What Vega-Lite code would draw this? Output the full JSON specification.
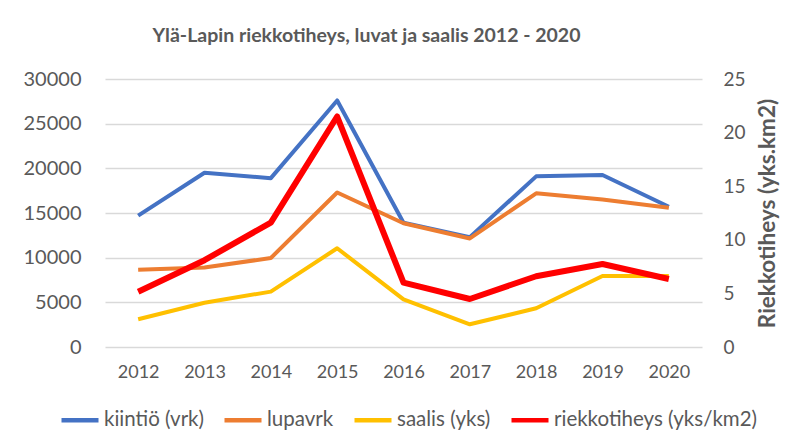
{
  "$schema": "https://vega.github.io/schema/vega-lite/v6.json",
  "autosize": "none",
  "width": 597,
  "height": 268,
  "padding": {"left": 105, "top": 79, "right": 91, "bottom": 92},
  "background": "white",
  "title": {
    "text": "Ylä-Lapin riekkotiheys, luvat ja saalis 2012 - 2020",
    "font": "Lato",
    "fontSize": 19.5,
    "fontWeight": "bold",
    "color": "#595959",
    "anchor": "middle",
    "offset": 23,
    "dx": -37
  },
  "data": {
    "values": [
      {"year": "2012", "series": "kiintiö (vrk)", "value": 14700},
      {"year": "2013", "series": "kiintiö (vrk)", "value": 19500},
      {"year": "2014", "series": "kiintiö (vrk)", "value": 18900},
      {"year": "2015", "series": "kiintiö (vrk)", "value": 27600},
      {"year": "2016", "series": "kiintiö (vrk)", "value": 13900},
      {"year": "2017", "series": "kiintiö (vrk)", "value": 12300},
      {"year": "2018", "series": "kiintiö (vrk)", "value": 19100},
      {"year": "2019", "series": "kiintiö (vrk)", "value": 19250},
      {"year": "2020", "series": "kiintiö (vrk)", "value": 15700},
      {"year": "2012", "series": "lupavrk", "value": 8650},
      {"year": "2013", "series": "lupavrk", "value": 8900},
      {"year": "2014", "series": "lupavrk", "value": 9960},
      {"year": "2015", "series": "lupavrk", "value": 17300},
      {"year": "2016", "series": "lupavrk", "value": 13850},
      {"year": "2017", "series": "lupavrk", "value": 12150},
      {"year": "2018", "series": "lupavrk", "value": 17200},
      {"year": "2019", "series": "lupavrk", "value": 16500},
      {"year": "2020", "series": "lupavrk", "value": 15600},
      {"year": "2012", "series": "saalis (yks)", "value": 3100},
      {"year": "2013", "series": "saalis (yks)", "value": 4960},
      {"year": "2014", "series": "saalis (yks)", "value": 6200},
      {"year": "2015", "series": "saalis (yks)", "value": 11050},
      {"year": "2016", "series": "saalis (yks)", "value": 5330},
      {"year": "2017", "series": "saalis (yks)", "value": 2540},
      {"year": "2018", "series": "saalis (yks)", "value": 4330},
      {"year": "2019", "series": "saalis (yks)", "value": 7950},
      {"year": "2020", "series": "saalis (yks)", "value": 7950},
      {"year": "2012", "series": "riekkotiheys (yks/km2)", "value": 5.16},
      {"year": "2013", "series": "riekkotiheys (yks/km2)", "value": 8.1},
      {"year": "2014", "series": "riekkotiheys (yks/km2)", "value": 11.6},
      {"year": "2015", "series": "riekkotiheys (yks/km2)", "value": 21.5},
      {"year": "2016", "series": "riekkotiheys (yks/km2)", "value": 6.0},
      {"year": "2017", "series": "riekkotiheys (yks/km2)", "value": 4.48},
      {"year": "2018", "series": "riekkotiheys (yks/km2)", "value": 6.6},
      {"year": "2019", "series": "riekkotiheys (yks/km2)", "value": 7.74},
      {"year": "2020", "series": "riekkotiheys (yks/km2)", "value": 6.34}
    ]
  },
  "encoding": {
    "x": {
      "field": "year",
      "type": "ordinal",
      "scale": {"type": "point", "padding": 0.5},
      "axis": {
        "title": null,
        "labelAngle": 0,
        "domain": false,
        "ticks": false,
        "grid": false,
        "labelFont": "Lato",
        "labelFontSize": 18,
        "labelColor": "#595959",
        "labelPadding": 16
      }
    },
    "color": {
      "field": "series",
      "type": "nominal",
      "scale": {
        "domain": ["kiintiö (vrk)", "lupavrk", "saalis (yks)", "riekkotiheys (yks/km2)"],
        "range": ["#4472C4", "#ED7D31", "#FFC000", "#FF0000"]
      },
      "legend": {
        "title": null,
        "orient": "none",
        "direction": "horizontal",
        "legendX": -46,
        "legendY": 320,
        "symbolType": "stroke",
        "symbolSize": 1369,
        "symbolStrokeWidth": 4.5,
        "labelFont": "Lato",
        "labelFontSize": 20.5,
        "labelColor": "#595959",
        "labelOffset": 3,
        "columnPadding": 11,
        "labelLimit": 400
      }
    }
  },
  "layer": [
    {
      "transform": [{"filter": "datum.series !== 'riekkotiheys (yks/km2)'"}],
      "mark": {"type": "line", "strokeWidth": 4, "strokeJoin": "round"},
      "encoding": {
        "y": {
          "field": "value",
          "type": "quantitative",
          "scale": {"domain": [0, 30000], "nice": false},
          "axis": {
            "title": null,
            "values": [0, 5000, 10000, 15000, 20000, 25000, 30000],
            "domain": false,
            "ticks": false,
            "gridColor": "#D9D9D9",
            "gridWidth": 1.3,
            "labelFont": "Lato",
            "labelFontSize": 20,
            "labelColor": "#595959",
            "labelPadding": 24,
            "format": "d"
          }
        }
      }
    },
    {
      "transform": [{"filter": "datum.series === 'riekkotiheys (yks/km2)'"}],
      "mark": {"type": "line", "strokeWidth": 6, "strokeJoin": "round"},
      "encoding": {
        "y": {
          "field": "value",
          "type": "quantitative",
          "scale": {"domain": [0, 25], "nice": false},
          "axis": {
            "orient": "right",
            "title": "Riekkotiheys (yks.km2)",
            "titleAngle": 270,
            "titleBaseline": "top",
            "values": [0, 5, 10, 15, 20, 25],
            "domain": false,
            "ticks": false,
            "grid": false,
            "labelFont": "Lato",
            "labelFontSize": 19,
            "labelColor": "#595959",
            "labelPadding": 21,
            "titleFont": "Lato",
            "titleFontSize": 22.5,
            "titleFontWeight": "bold",
            "titleColor": "#595959",
            "titlePadding": 11
          }
        }
      }
    }
  ],
  "resolve": {"scale": {"y": "independent"}},
  "config": {"view": {"stroke": null}}
}
